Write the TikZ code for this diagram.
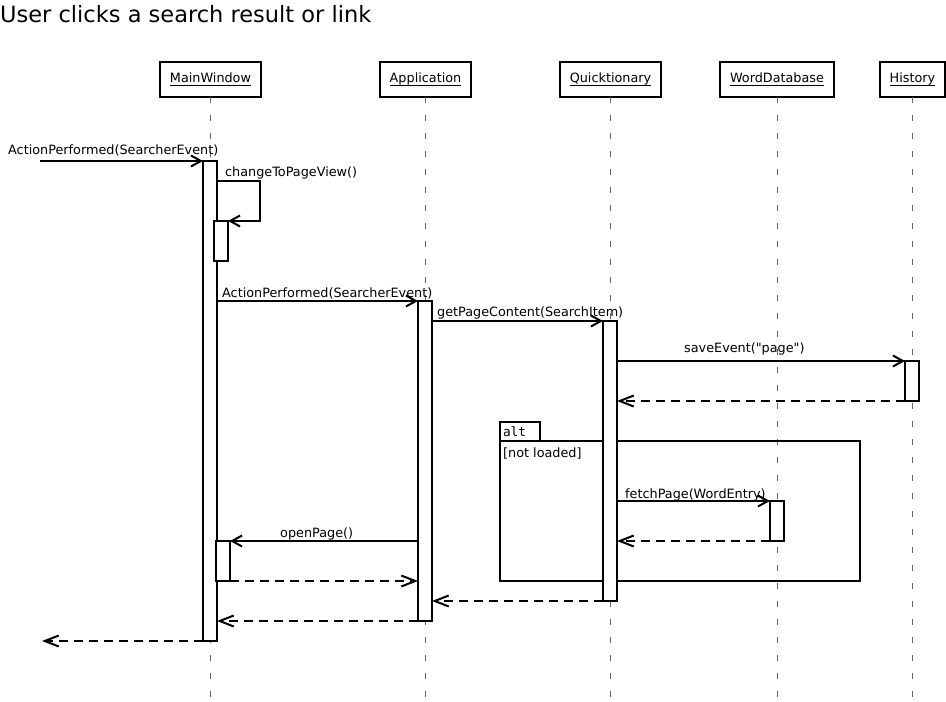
\documentclass[tikz,border=0pt]{standalone}
\usepackage{fontspec}
\setmainfont{DejaVu Sans}
\setmonofont{DejaVu Sans Mono}
\usetikzlibrary{arrows.meta,positioning}
\newcommand\objname[1]{\underline{\smash{#1}\rule[-1.2pt]{0pt}{11pt}}}

\begin{document}
\begin{tikzpicture}[x=1pt,y=-1pt,
  font=\fontsize{12.8}{15}\selectfont,
  head/.style={draw,line width=2pt,minimum height=35pt,inner sep=0pt,outer sep=0pt},
  life/.style={black!60,line width=0.9pt,dash pattern=on 6pt off 12pt},
  act/.style={draw,fill=white,line width=2pt,minimum width=14pt,inner sep=0pt,outer sep=0pt,anchor=north},
  call/.style={line width=2pt,-{Straight Barb[length=10pt,width=11pt]}},
  ret/.style={line width=2pt,dash pattern=on 9pt off 6pt,-{Straight Barb[length=14pt,width=11pt]}},
  lbl/.style={inner sep=0pt,anchor=base west}]
\useasboundingbox (0,0) rectangle (946,702);
\node[lbl,font=\fontsize{22.5}{27}\selectfont] (title) at (0,22) {User clicks a search result or link};
\node[head,minimum width=101pt] (mw) at (210.5,79.5) {\objname{MainWindow}};
\node[head,minimum width=91pt] (app) at (425.5,79.5) {\objname{Application}};
\node[head,minimum width=101pt] (qt) at (610.5,79.5) {\objname{Quicktionary}};
\node[head,minimum width=114pt] (wdb) at (777,79.5) {\objname{WordDatabase}};
\node[head,minimum width=65pt] (hist) at (912.5,79.5) {\objname{History}};
\foreach \n in {mw,app,qt,wdb,hist}
  \draw[life] (\n.south) -- (\n.south |- 0,700);
\node[draw,line width=2pt,minimum width=360pt,minimum height=140pt,inner sep=0pt,outer sep=0pt,anchor=north west] (frame) at (500,441) {};
\node[draw,line width=2pt,minimum height=19pt,text width=34pt,inner xsep=3pt,inner ysep=0pt,outer sep=0pt,anchor=south west,font=\fontsize{12.8}{15}\ttfamily] (alttab) at (frame.north west) {alt};
\node[lbl] (guard) at (503,457) {[not loaded]};
\node[act,minimum height=480pt] (mwA) at (210,161) {};
\node[act,minimum height=40pt] (mwB) at (221,221) {};
\node[act,minimum height=40pt] (mwC) at (223,541) {};
\node[act,minimum height=320pt] (appA) at (425,301) {};
\node[act,minimum height=280pt] (qtA) at (610,321) {};
\node[act,minimum height=40pt] (histA) at (912,361) {};
\node[act,minimum height=40pt] (wdbA) at (777,501) {};
\coordinate (found) at (40,161);
\coordinate (lost) at (42,641);
\draw[call] (found) -- (mwA.north west);
\node[lbl] (m1) at (8,154) {ActionPerformed(SearcherEvent)};
\draw[call] (mwA.east |- 0,181) -- (260,181) |- (mwB.north east);
\node[lbl] (m2) at (225,176) {changeToPageView()};
\draw[call] (mwA.east |- appA.north) -- (appA.north west);
\node[lbl] (m3) at (222,297) {ActionPerformed(SearcherEvent)};
\draw[call] (appA.east |- qtA.north) -- (qtA.north west);
\node[lbl] (m4) at (437,316) {getPageContent(SearchItem)};
\draw[call] (qtA.east |- histA.north) -- (histA.north west);
\node[lbl] (m5) at (684,352) {saveEvent(\textquotedbl page\textquotedbl)};
\draw[ret] (histA.south west) -- (qtA.east |- histA.south);
\draw[call] (qtA.east |- wdbA.north) -- (wdbA.north west);
\node[lbl] (m7) at (625,498) {fetchPage(WordEntry)};
\draw[ret] (wdbA.south west) -- (qtA.east |- wdbA.south);
\draw[call] (appA.west |- mwC.north) -- (mwC.north east);
\node[lbl] (m9) at (280,537) {openPage()};
\draw[ret] (mwC.south east) -- (appA.west |- mwC.south);
\draw[ret] (qtA.south west) -- (appA.east |- qtA.south);
\draw[ret] (appA.south west) -- (mwA.east |- appA.south);
\draw[ret] (mwA.south west) -- (lost);
\end{tikzpicture}
\end{document}
